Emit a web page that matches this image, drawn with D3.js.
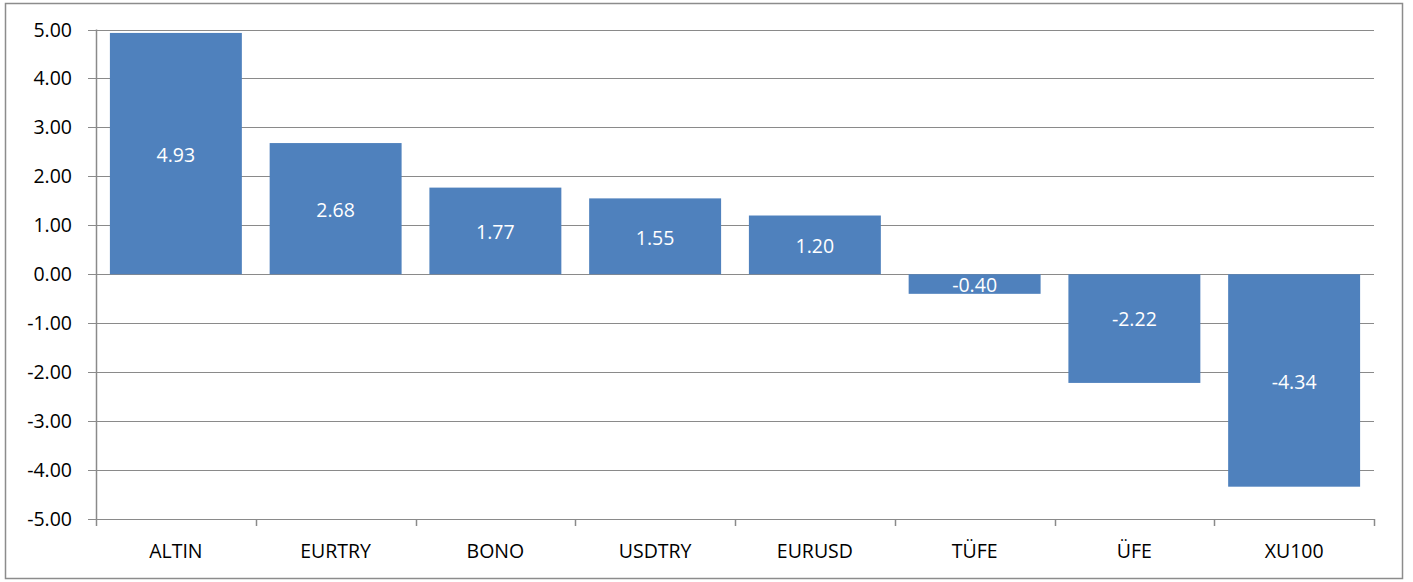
<!DOCTYPE html>
<html><head><meta charset="utf-8">
<script src="https://cdn.jsdelivr.net/npm/d3@7"></script>
<style>body{margin:0;background:#fff}svg{display:block}</style>
</head><body>
<svg id="c" width="1413" height="582"></svg>
<script>
const categories = ["ALTIN","EURTRY","BONO","USDTRY","EURUSD","TÜFE","ÜFE","XU100"];
const values = [4.93, 2.68, 1.77, 1.55, 1.20, -0.40, -2.22, -4.34];
const yTicks = [5,4,3,2,1,0,-1,-2,-3,-4,-5];

(function(){
const svg = d3.select("#c");
const pL = 96, pR = 1374, pT = 29.5, pB = 519;
const font = "'Open Sans', sans-serif";
const fmt = d => d.toFixed(2);

svg.append("rect").attr("x",5.5).attr("y",3.5).attr("width",1397).attr("height",575)
  .attr("fill","#fff").attr("stroke","#8c8c8c").attr("stroke-width",1.5);

const x = d3.scaleBand().domain(categories).range([pL,pR]).paddingInner(0.174).paddingOuter(0.087);
const y = d3.scaleLinear().domain([-5,5]).range([pB,pT]);

svg.append("g").selectAll("line").data(yTicks).join("line")
  .attr("x1",pL-8).attr("x2",pR)
  .attr("y1",d=>Math.round(y(d))+0.5).attr("y2",d=>Math.round(y(d))+0.5)
  .attr("stroke","#8a8a8a").attr("stroke-width",1.2);

svg.append("line").attr("x1",pL+0.5).attr("x2",pL+0.5).attr("y1",pT).attr("y2",pB)
  .attr("stroke","#8a8a8a").attr("stroke-width",1.5);

svg.append("g").selectAll("text").data(yTicks).join("text")
  .attr("x",72).attr("y",d=>y(d)).attr("dy","0.36em").attr("text-anchor","end")
  .attr("font-family",font).attr("font-size",19.5).attr("fill","#000")
  .text(fmt);

const bounds = d3.range(categories.length+1).map(i=>pL + i*x.step());
svg.append("g").selectAll("line").data(bounds).join("line")
  .attr("x1",d=>Math.round(d)+0.5).attr("x2",d=>Math.round(d)+0.5)
  .attr("y1",pB).attr("y2",pB+7)
  .attr("stroke","#8a8a8a").attr("stroke-width",1.5);

svg.append("g").selectAll("rect").data(values).join("rect")
  .attr("x",(d,i)=>x(categories[i])).attr("width",x.bandwidth())
  .attr("y",d=>y(Math.max(0,d))).attr("height",d=>Math.abs(y(d)-y(0)))
  .attr("fill","#4f81bd");

// label placement: centred in bar (the ÜFE label sits higher in the original)
const labelY = (d,i) => categories[i]==="ÜFE" ? y(d*0.4) : (y(d)+y(0))/2;
svg.append("g").selectAll("text").data(values).join("text")
  .attr("x",(d,i)=>x(categories[i])+x.bandwidth()/2)
  .attr("y",labelY).attr("dy","0.42em").attr("text-anchor","middle")
  .attr("font-family",font).attr("font-size",19.5).attr("fill","#fff")
  .text(fmt);

svg.append("g").selectAll("text").data(categories).join("text")
  .attr("x",d=>x(d)+x.bandwidth()/2).attr("y",550.5).attr("dy","0.36em").attr("text-anchor","middle")
  .attr("font-family",font).attr("font-size",19.5).attr("fill","#000")
  .text(d=>d);
})();
</script>
</body></html>
